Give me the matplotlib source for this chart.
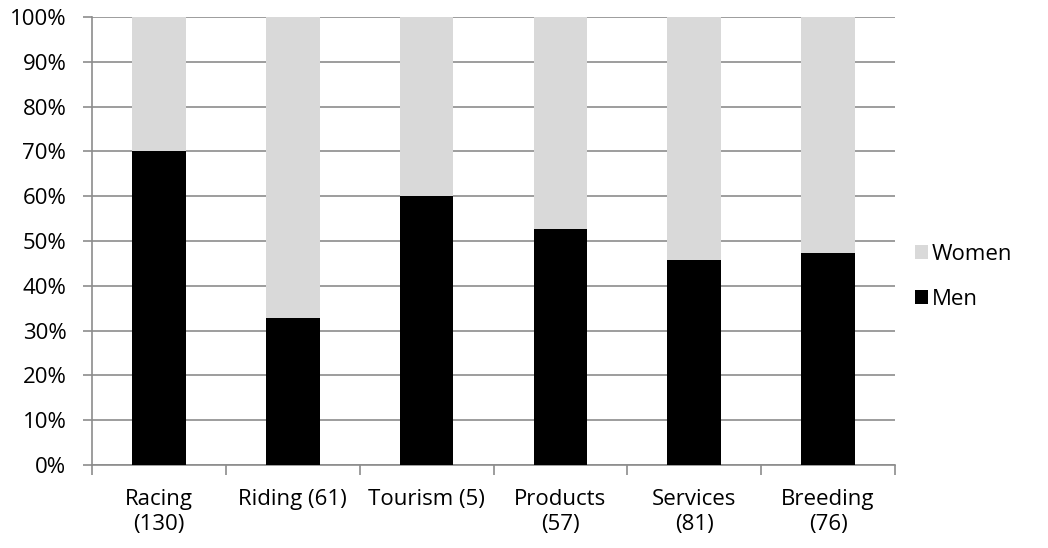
import numpy as np
import matplotlib.pyplot as plt
from matplotlib.ticker import FixedLocator, PercentFormatter

categories = ['Racing\n(130)', 'Riding (61)', 'Tourism (5)', 'Products\n(57)', 'Services\n(81)', 'Breeding\n(76)']
men = [70.0, 32.8, 60.0, 52.6, 45.7, 47.4]
women = [100 - m for m in men]

plt.rcParams['font.family'] = ['Open Sans', 'DejaVu Sans']
fs = 16

fig = plt.figure(figsize=(10.48, 5.48), dpi=100)
ax = fig.add_axes([0.0878, 0.1515, 0.7662, 0.8175])

x = np.arange(len(categories))
ax.bar(x, men, width=0.4, color='black', label='Men', zorder=3)
ax.bar(x, women, width=0.4, bottom=men, color='#d9d9d9', label='Women', zorder=3)

ax.set_xlim(-0.5, len(categories) - 0.5)
ax.set_ylim(0, 100)
ax.set_yticks(np.arange(0, 101, 10))
ax.yaxis.set_major_formatter(PercentFormatter(decimals=0))
ax.yaxis.grid(True, color='#8c8c8c', linewidth=1.2, zorder=0)

# category labels in the middle, tick marks on the boundaries
ax.set_xticks(x)
ax.set_xticklabels(categories, fontsize=fs, linespacing=1.3)
ax.tick_params(axis='x', which='major', length=0, pad=17)
ax.xaxis.set_minor_locator(FixedLocator(np.arange(-0.5, len(categories), 1.0)))
ax.tick_params(axis='x', which='minor', length=7, width=1.2, color='#8c8c8c')
ax.tick_params(axis='y', length=6.5, width=1.2, color='#8c8c8c', labelsize=fs, pad=12)

for side in ['top', 'right']:
    ax.spines[side].set_visible(False)
for side in ['left', 'bottom']:
    ax.spines[side].set_color('#8c8c8c')
    ax.spines[side].set_linewidth(1.2)

handles, labels = ax.get_legend_handles_labels()
ax.legend(handles[::-1], labels[::-1], loc='center left', bbox_to_anchor=(1.0, 0.42),
          frameon=False, fontsize=fs, handlelength=0.6, handleheight=0.6,
          handletextpad=0.15, labelspacing=1.1)

fig.savefig('out.png', dpi=100)
